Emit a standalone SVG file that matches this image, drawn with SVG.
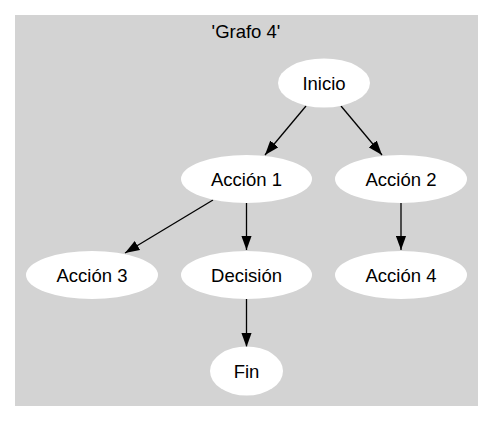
<svg xmlns="http://www.w3.org/2000/svg" width="493" height="422" viewBox="0 0 493 422">
<style>
.node ellipse{fill:#ffffff;stroke:none}
text{font-family:"Liberation Sans",Arial,sans-serif;font-size:18.5px;fill:#000;text-anchor:middle}
.edges line{stroke:#000;stroke-width:1.3}
</style>
<defs>
<marker id="arr" markerUnits="userSpaceOnUse" markerWidth="15" markerHeight="11" refX="14.5" refY="5.25" orient="auto" viewBox="0 0 15 10.5">
<polygon points="0,0 14.5,5.25 0,10.5" fill="#000"/>
</marker>
</defs>
<rect width="493" height="422" fill="#ffffff"/>
<g id="cluster">
<rect x="15" y="15" width="463" height="391" fill="#d3d3d3"/>
<text x="246" y="38">'Grafo 4'</text>
</g>
<g class="edges" id="edges">
<line x1="306" y1="106" x2="265" y2="155" marker-end="url(#arr)"/>
<line x1="341" y1="106" x2="382" y2="155" marker-end="url(#arr)"/>
<line x1="213" y1="200" x2="125" y2="253" marker-end="url(#arr)"/>
<line x1="246.5" y1="203" x2="246.5" y2="250" marker-end="url(#arr)"/>
<line x1="401" y1="203" x2="401" y2="250" marker-end="url(#arr)"/>
<line x1="246.5" y1="299" x2="246.5" y2="347" marker-end="url(#arr)"/>
</g>
<g class="node" id="inicio"><ellipse cx="324" cy="83" rx="46" ry="24.5"/><text x="324" y="90">Inicio</text></g>
<g class="node" id="accion1"><ellipse cx="246.5" cy="179" rx="65.5" ry="24"/><text x="246.5" y="186">Acción 1</text></g>
<g class="node" id="accion2"><ellipse cx="401" cy="179" rx="66" ry="24"/><text x="401" y="186">Acción 2</text></g>
<g class="node" id="accion3"><ellipse cx="92" cy="275" rx="66" ry="24"/><text x="92" y="282">Acción 3</text></g>
<g class="node" id="decision"><ellipse cx="246.5" cy="275" rx="65.5" ry="24"/><text x="246.5" y="282">Decisión</text></g>
<g class="node" id="accion4"><ellipse cx="401" cy="275" rx="66" ry="24"/><text x="401" y="282">Acción 4</text></g>
<g class="node" id="fin"><ellipse cx="246.5" cy="371" rx="36.5" ry="24.5"/><text x="246.5" y="378">Fin</text></g>
</svg>
